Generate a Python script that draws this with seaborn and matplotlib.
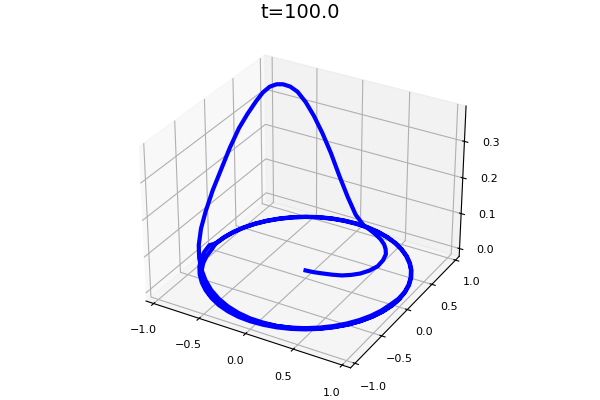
import matplotlib
matplotlib.use("Agg")
import matplotlib.pyplot as plt
import seaborn as sns

sns.reset_defaults()
line_color = sns.color_palette(["#0000ff"])[0]

spiral_x = [0, .085, .171, .256, .34, .412, .475, .525, .555, .548, .52, .475, .42, .345, .264, .17, .078]
spiral_y = [0, .012, .035, .06, .093, .145, .21, .30, .405, .525, .636, .715, .787, .855, .909, .96, .997]
spiral_z = [0, 0, 0, 0, 0, 0, 0, 0, 0, 0, 0, 0, 0, 0, 0, 0, .002]

hump_x = [-.012, -.101, -.188, -.274, -.353, -.43, -.5, -.566, -.622, -.674, -.72, -.766, -.808, -.847, -.895, -.935, -.97, -.993, -.998, -.982, -.935, -.866, -.793, -.707, -.609, -.5, -.383, -.259, -.131, 0]
hump_y = [1.0, .995, .982, .962, .935, .903, .866, .824, .783, .738, .694, .643, .589, .531, .446, .353, .24, .12, -.035, -.191, -.35, -.5, -.609, -.707, -.793, -.866, -.924, -.966, -.991, -1]
hump_z = [.025, .071, .126, .188, .241, .288, .326, .355, .37, .378, .38, .376, .364, .345, .316, .285, .242, .197, .155, .117, .093, .072, .057, .045, .035, .026, .02, .015, .011, .008]

arc1_x = [.131, .259, .383, .5, .609, .707, .793, .866, .924, .966, .991, 1]
arc1_y = [-.991, -.966, -.924, -.866, -.793, -.707, -.609, -.5, -.383, -.259, -.131, 0]
arc1_z = [.006, .004, .003, .002, .001, .001, 0, 0, 0, 0, 0, 0]

top1_x = [.991, .966, .924, .866, .793, .707, .609, .5, .383, .259, .131, 0, -.131, -.259, -.383, -.5, -.609, -.707, -.793, -.866, -.924, -.966, -.991, -1]
top1_y = [.131, .259, .383, .5, .609, .707, .793, .866, .924, .966, .991, 1, .991, .966, .924, .866, .793, .707, .609, .5, .383, .259, .131, 0]
top1_z = [0] * 24

low2_x = [-.971, -.947, -.906, -.849, -.777, -.693, -.597, -.49, -.375, -.254, -.128, 0, .128, .254, .375, .49, .597, .693, .777, .849, .906, .947, .971, .99]
low2_y = [-.128, -.254, -.375, -.49, -.597, -.693, -.777, -.849, -.906, -.947, -.971, -.98, -.971, -.947, -.906, -.849, -.777, -.693, -.597, -.49, -.375, -.254, -.128, 0]
low2_z = [0] * 24

top2_x = [.986, .961, .919, .862, .789, .703, .606, .498, .381, .258, .13, 0, -.13, -.258, -.381, -.498, -.606, -.703, -.789, -.862, -.919, -.961, -.986, -.995]
top2_y = [.13, .258, .381, .498, .606, .703, .789, .862, .919, .961, .986, .995, .986, .961, .919, .862, .789, .703, .606, .498, .381, .258, .13, 0]
top2_z = [0] * 24

low3_x = [-.991, -.966, -.924, -.866, -.793, -.707, -.609, -.5, -.383, -.259, -.131, 0, .131, .259, .383, .5, .609, .707, .793, .866, .924, .966, .991, 1]
low3_y = [-.131, -.259, -.383, -.5, -.609, -.707, -.793, -.866, -.924, -.966, -.991, -1, -.991, -.966, -.924, -.866, -.793, -.707, -.609, -.5, -.383, -.259, -.131, 0]
low3_z = [.012, .012, .012, .012, .01, .008, .006, .004, .002, .001, 0, 0, 0, 0, 0, 0, 0, 0, 0, 0, 0, 0, 0, 0]

x_vals = spiral_x + hump_x + arc1_x + top1_x + low2_x + top2_x + low3_x
y_vals = spiral_y + hump_y + arc1_y + top1_y + low2_y + top2_y + low3_y
z_vals = spiral_z + hump_z + arc1_z + top1_z + low2_z + top2_z + low3_z

xy_ticks = [-1.0, -0.5, 0.0, 0.5, 1.0]
z_ticks = [0.0, 0.1, 0.2, 0.3]
title_text = "t=100.0"

fig = plt.figure(figsize=(6, 4), dpi=100)
ax = fig.add_axes([0.036, 0.023, 0.93, 0.91], projection="3d")
ax.plot(x_vals, y_vals, z_vals, color=line_color, linewidth=3)
ax.set_xlim(-1.085, 1.085)
ax.set_ylim(-1.08, 1.08)
ax.set_zlim(-0.0225, 0.395)
ax.set_xticks(xy_ticks)
ax.set_yticks(xy_ticks)
ax.set_zticks(z_ticks)
ax.tick_params(labelsize=8)
fig.suptitle(title_text, fontsize=14, x=0.5, y=0.97, va="center")
fig.savefig("out.png", dpi=100)
